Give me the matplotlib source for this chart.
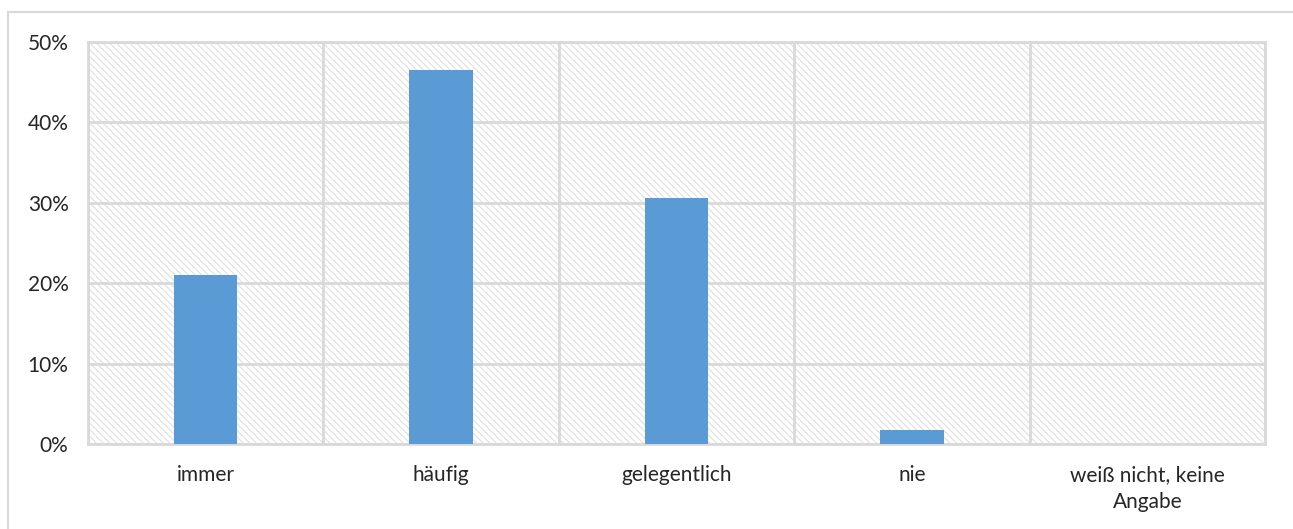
import matplotlib.pyplot as plt
from matplotlib.patches import Rectangle
from matplotlib.lines import Line2D
from matplotlib.ticker import FuncFormatter, MultipleLocator
import numpy as np

plt.rcParams['font.family'] = ['Lato', 'DejaVu Sans']
plt.rcParams['hatch.color'] = '#e0e0e0'
plt.rcParams['hatch.linewidth'] = 0.8

# Kategorien und Anteile (in %)
categories = ['immer', 'häufig', 'gelegentlich', 'nie', 'weiß nicht, keine\nAngabe']
values = [21.0, 46.5, 30.6, 1.7, 0.0]
yticks = [0, 10, 20, 30, 40, 50]

grid_col = '#d9d9d9'
bar_col = '#5b9bd5'

fig = plt.figure(figsize=(12.93, 5.29), dpi=100)
ax = fig.add_axes([88 / 1293, 1 - 444 / 529, (1265 - 88) / 1293, (444 - 42) / 529])

# äußerer Rahmen (links und oben sichtbar)
fig.add_artist(Line2D([8 / 1293, 8 / 1293], [0, 1 - 12 / 529], transform=fig.transFigure,
                      color=grid_col, lw=1.5))
fig.add_artist(Line2D([8 / 1293, 1], [1 - 12 / 529, 1 - 12 / 529], transform=fig.transFigure,
                      color=grid_col, lw=1.5))

# schraffierter Hintergrund
ax.add_patch(Rectangle((0, 0), 1, 1, transform=ax.transAxes, facecolor='white',
                       edgecolor='#e0e0e0', hatch='\\\\\\\\\\', lw=0, zorder=0))

x = np.arange(len(categories))
ax.bar(x, values, width=0.27, color=bar_col, zorder=3)

ax.set_xlim(-0.5, len(categories) - 0.5)
ax.set_ylim(0, 50)
ax.set_yticks(yticks)
ax.yaxis.set_major_formatter(FuncFormatter(lambda v, p: f'{int(v)}%'))
ax.set_xticks(x)
ax.set_xticklabels(categories, linespacing=1.45)
ax.xaxis.set_minor_locator(MultipleLocator(1, offset=0.5))

ax.grid(axis='y', which='major', color=grid_col, lw=2, zorder=1)
ax.grid(axis='x', which='minor', color=grid_col, lw=2, zorder=1)
ax.grid(axis='x', which='major', visible=False)
ax.set_axisbelow(True)

for s in ax.spines.values():
    s.set_color(grid_col)
    s.set_linewidth(2)

ax.tick_params(axis='both', which='both', length=0, labelsize=15, labelcolor='#262626')
ax.tick_params(axis='y', pad=14)
ax.tick_params(axis='x', pad=15)

plt.savefig('out.png', dpi=100)
